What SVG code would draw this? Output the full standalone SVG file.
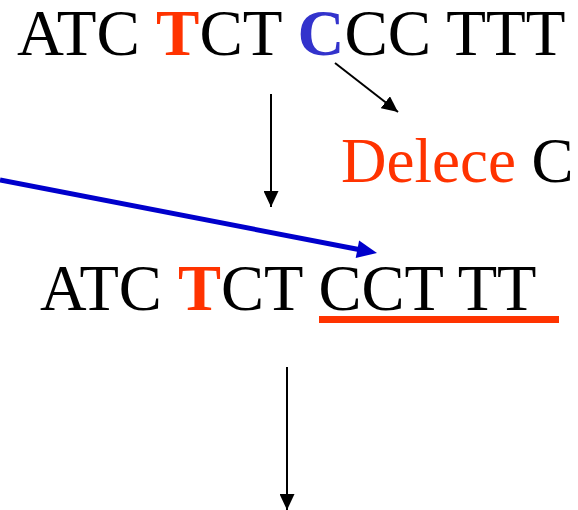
<svg xmlns="http://www.w3.org/2000/svg" width="578" height="510" viewBox="0 0 578 510">
<style>
text{font-family:"Liberation Serif","Times New Roman",serif;font-size:65px;fill:#000}
.red{fill:#ff3300}
.blue{fill:#3333cc}
.b{font-weight:bold}
.ln{stroke:#000;stroke-width:2;fill:none}
</style>
<defs>
<marker id="ahk" markerWidth="16" markerHeight="15" refX="16" refY="7.5" orient="auto" markerUnits="userSpaceOnUse" viewBox="0 0 16 15"><path d="M0,0 L16,7.5 L0,15 Z" fill="#000"/></marker>
</defs>
<g id="seq1"><text x="17" y="55">ATC <tspan class="red b">T</tspan>CT <tspan class="blue b">C</tspan>CC TTT</text></g>
<g id="deletion"><text x="341" y="182" style="font-size:63px"><tspan class="red">Delece</tspan> C</text></g>
<g id="seq2"><text x="40" y="310" style="font-size:64.5px">ATC <tspan class="red b">T</tspan>CT CCT TT</text>
<rect x="319" y="316" width="240" height="7" fill="#ff3300"/></g>
<g id="connectors">
<line class="ln" x1="335" y1="63" x2="398" y2="112" marker-end="url(#ahk)"/>
<line class="ln" x1="271" y1="94" x2="271" y2="207" marker-end="url(#ahk)"/>
<line x1="0" y1="180" x2="360" y2="249.7" stroke="#0000cc" stroke-width="5"/>
<polygon points="377,253 359.1,240.4 355.7,258" fill="#0000cc"/>
<line class="ln" x1="287" y1="367" x2="287" y2="510" marker-end="url(#ahk)"/>
</g>
</svg>
